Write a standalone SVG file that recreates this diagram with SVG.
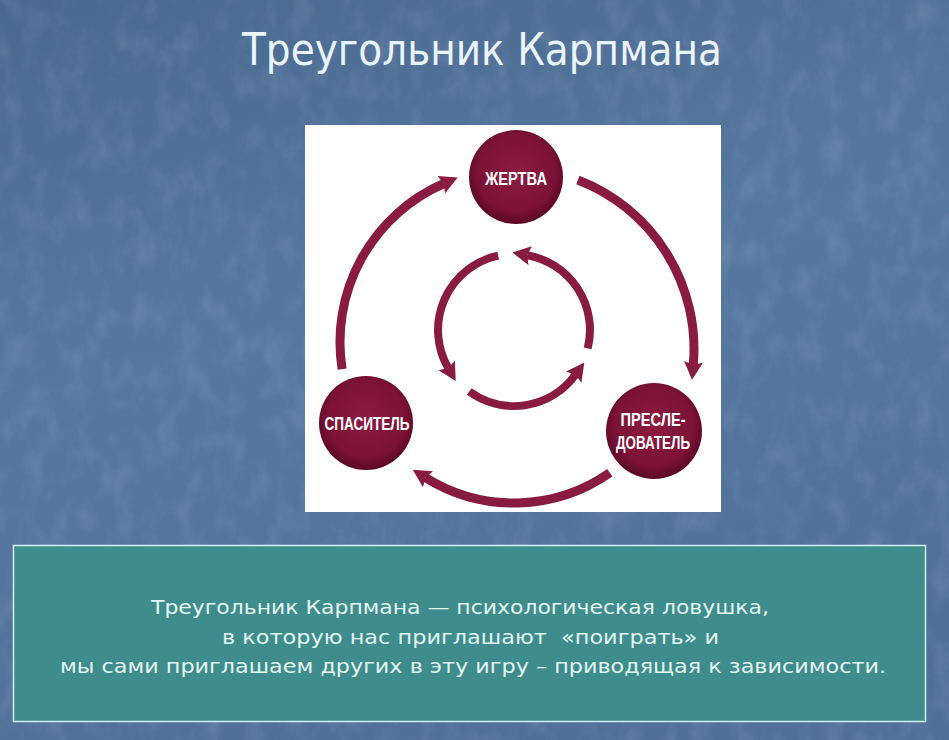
<svg xmlns="http://www.w3.org/2000/svg" width="949" height="740" viewBox="0 0 949 740">
  <defs>
    <linearGradient id="bg" x1="0" y1="0" x2="0.3" y2="1">
      <stop offset="0" stop-color="#4a6990"/>
      <stop offset="0.5" stop-color="#5778a0"/>
      <stop offset="1" stop-color="#50709a"/>
    </linearGradient>
    <radialGradient id="ball" cx="0.5" cy="0.45" r="0.55">
      <stop offset="0" stop-color="#8e1a40"/>
      <stop offset="0.75" stop-color="#7b1236"/>
      <stop offset="1" stop-color="#5a0823"/>
    </radialGradient>
    <filter id="tex" x="0" y="0" width="100%" height="100%">
      <feTurbulence type="fractalNoise" baseFrequency="0.045 0.03" numOctaves="4" seed="7"/>
      <feColorMatrix type="matrix" values="0 0 0 0 1  0 0 0 0 1  0 0 0 0 1  0 0 0 1.5 -0.65"/>
    </filter>
    <marker id="ah" viewBox="0 0 18 20" refX="3" refY="10" markerWidth="18" markerHeight="20" markerUnits="userSpaceOnUse" orient="auto">
      <path d="M0,0.5 L18,10 L0,19.5 L3,10 Z" fill="#8a1b40"/>
    </marker>
    <style>
      .arc { fill: none; stroke: #8a1b40; stroke-linecap: butt; marker-end: url(#ah); }
      .outer { stroke-width: 9; }
      .inner { stroke-width: 8; }
      .ball { fill: url(#ball); }
      .lbl { font-family: "Liberation Sans", Arial, sans-serif; font-weight: bold; font-size: 19px; fill: #ffffff; text-anchor: middle; }
      .title { font-family: "DejaVu Sans", "Liberation Sans", sans-serif; font-size: 44px; fill: #eaf4fb; }
      .body { font-family: "DejaVu Sans", "Liberation Sans", sans-serif; font-size: 20px; fill: #e2f5f1; }
    </style>
  </defs>

  <rect width="949" height="740" fill="url(#bg)"/>
  <rect width="949" height="740" filter="url(#tex)" opacity="0.13"/>

  <text class="title" x="242" y="65" textLength="480" lengthAdjust="spacingAndGlyphs">Треугольник Карпмана</text>

  <rect x="305" y="125" width="416" height="387" fill="#ffffff"/>

  <g id="connectors">
    <path class="arc outer" d="M342.1,369.1 A173,173 0 0 1 443.9,183.5"/>
    <path class="arc outer" d="M577.9,180.0 A181,181 0 0 1 693.3,364.8"/>
    <path class="arc outer" d="M609.8,472.8 A167,167 0 0 1 425.5,477.6"/>
    <path class="arc inner" d="M587.7,348.4 A76,76 0 0 0 527.2,255.2"/>
    <path class="arc inner" d="M498.2,255.7 A76,76 0 0 0 448.2,368.0"/>
    <path class="arc inner" d="M469.3,391.5 A76,76 0 0 0 575.5,374.7"/>
  </g>

  <g id="zhertva">
    <circle class="ball" cx="516" cy="177" r="47"/>
    <text class="lbl" x="516" y="185" textLength="62" lengthAdjust="spacingAndGlyphs">ЖЕРТВА</text>
  </g>
  <g id="spasitel">
    <circle class="ball" cx="366" cy="423" r="47"/>
    <text class="lbl" x="367" y="430" textLength="85" lengthAdjust="spacingAndGlyphs">СПАСИТЕЛЬ</text>
  </g>
  <g id="presledovatel">
    <circle class="ball" cx="654" cy="431" r="48"/>
    <text class="lbl" x="653" y="426" textLength="65" lengthAdjust="spacingAndGlyphs">ПРЕСЛЕ-</text>
    <text class="lbl" x="653" y="449" textLength="74" lengthAdjust="spacingAndGlyphs">ДОВАТЕЛЬ</text>
  </g>

  <g id="note">
    <rect x="13.5" y="545.5" width="912" height="176" fill="#3f8c8d" stroke="#d4eef0" stroke-width="1.5"/>
    <text class="body" x="151" y="614" textLength="618" lengthAdjust="spacingAndGlyphs">Треугольник Карпмана — психологическая ловушка,</text>
    <text class="body" x="222" y="644" textLength="497" lengthAdjust="spacingAndGlyphs">в которую нас приглашают&#160; «поиграть» и</text>
    <text class="body" x="60" y="673" textLength="826" lengthAdjust="spacingAndGlyphs">мы сами приглашаем других в эту игру – приводящая к зависимости.</text>
  </g>
</svg>
